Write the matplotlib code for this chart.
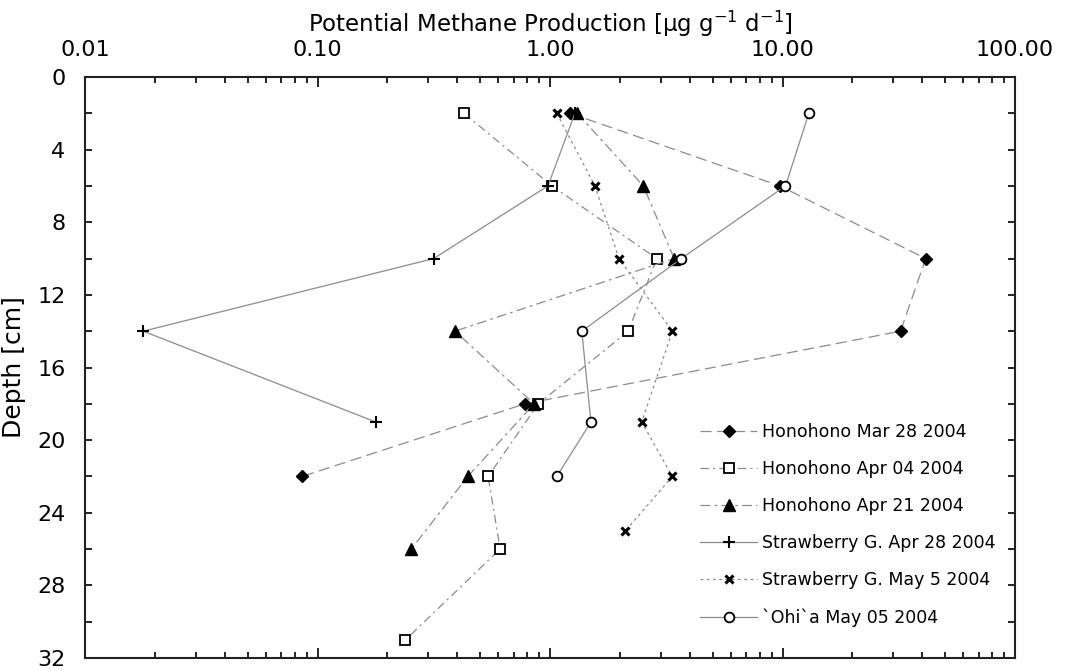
import matplotlib
matplotlib.use("Agg")
import matplotlib.pyplot as plt
from matplotlib.ticker import FuncFormatter, LogLocator, MultipleLocator

plt.rcParams['font.family'] = ['DejaVu Sans']
plt.rcParams['lines.scale_dashes'] = False

## depth profiles of potential methane production (ug g-1 d-1)
hono_mar28_depth = [2, 6, 10, 14, 18, 22]
hono_mar28_rate = [1.22, 9.75, 41.3, 32.2, 0.78, 0.086]

hono_apr04_depth = [2, 6, 10, 14, 18, 22, 26, 31]
hono_apr04_rate = [0.427, 1.02, 2.88, 2.17, 0.89, 0.542, 0.61, 0.239]

hono_apr21_depth = [2, 6, 10, 14, 18, 22, 26]
hono_apr21_rate = [1.31, 2.52, 3.42, 0.39, 0.855, 0.443, 0.253]

straw_apr28_depth = [2, 6, 10, 14, 19]
straw_apr28_rate = [1.28, 0.98, 0.316, 0.0178, 0.178]

straw_may5_depth = [2, 6, 10, 14, 19, 22, 25]
straw_may5_rate = [1.07, 1.56, 1.98, 3.36, 2.48, 3.36, 2.11]

ohia_may05_depth = [2, 6, 10, 14, 19, 22]
ohia_may05_rate = [12.98, 10.3, 3.67, 1.37, 1.5, 1.07]

labels = ["Honohono Mar 28 2004", "Honohono Apr 04 2004", "Honohono Apr 21 2004",
          "Strawberry G. Apr 28 2004", "Strawberry G. May 5 2004", "`Ohi`a May 05 2004"]

fig = plt.figure(figsize=(10.65, 6.71), dpi=100)
ax = fig.add_axes([85/1065, 1-658/671, 930/1065, 581/671])

lc = '#8c8c8c'
lw = 0.9

ax.plot(hono_mar28_rate, hono_mar28_depth, color=lc, lw=lw, ls=(0, (8, 4)),
        marker='D', ms=6, mfc='black', mec='black', label=labels[0])
ax.plot(hono_apr04_rate, hono_apr04_depth, color=lc, lw=lw, ls=(0, (6, 3, 1.5, 3)),
        marker='s', ms=7, mfc='white', mec='black', mew=1.3, label=labels[1])
ax.plot(hono_apr21_rate, hono_apr21_depth, color=lc, lw=lw, ls=(0, (7, 3, 2, 3)),
        marker='^', ms=8, mfc='black', mec='black', label=labels[2])
ax.plot(straw_apr28_rate, straw_apr28_depth, color=lc, lw=lw, ls='-',
        marker='+', ms=8, mec='black', mew=1.5, label=labels[3])
ax.plot(straw_may5_rate, straw_may5_depth, color=lc, lw=lw, ls=(0, (2, 2.5)),
        marker='x', ms=6, mec='black', mew=2.2, label=labels[4])
ax.plot(ohia_may05_rate, ohia_may05_depth, color=lc, lw=lw, ls='-',
        marker='o', ms=7, mfc='white', mec='black', mew=1.3, label=labels[5])

ax.set_xscale('log')
ax.set_xlim(0.01, 100)
ax.set_ylim(32, 0)

ax.xaxis.set_major_locator(LogLocator(base=10, numticks=10))
ax.xaxis.set_minor_locator(LogLocator(base=10, subs=range(2, 10), numticks=10))
ax.xaxis.set_major_formatter(FuncFormatter(lambda v, p: f"{v:.2f}"))
ax.yaxis.set_major_locator(MultipleLocator(4))
ax.yaxis.set_minor_locator(MultipleLocator(2))

ax.tick_params(which='both', direction='in', top=True, bottom=True, left=True, right=True,
               labeltop=True, labelbottom=False, width=1.2)
ax.tick_params(axis='x', which='major', length=7, pad=12, labelsize=16)
ax.tick_params(axis='x', which='minor', length=4)
ax.tick_params(axis='y', which='both', length=5, pad=14, labelsize=16)

for s in ax.spines.values():
    s.set_linewidth(1.5)
    s.set_color('#222222')

ax.xaxis.set_label_position('top')
ax.set_xlabel('Potential Methane Production [\u03bcg g$^{-1}$ d$^{-1}$]', fontsize=16.5, labelpad=6)
ax.set_ylabel('Depth [cm]', fontsize=18, labelpad=8)

ax.legend(loc='upper left', bbox_to_anchor=(700/1065, 1-423/671), bbox_transform=fig.transFigure,
          frameon=False, fontsize=12.5, borderpad=0, borderaxespad=0, numpoints=1,
          handlelength=3.3, handletextpad=0.25, labelspacing=1.1)

fig.savefig('out.png', dpi=100)
